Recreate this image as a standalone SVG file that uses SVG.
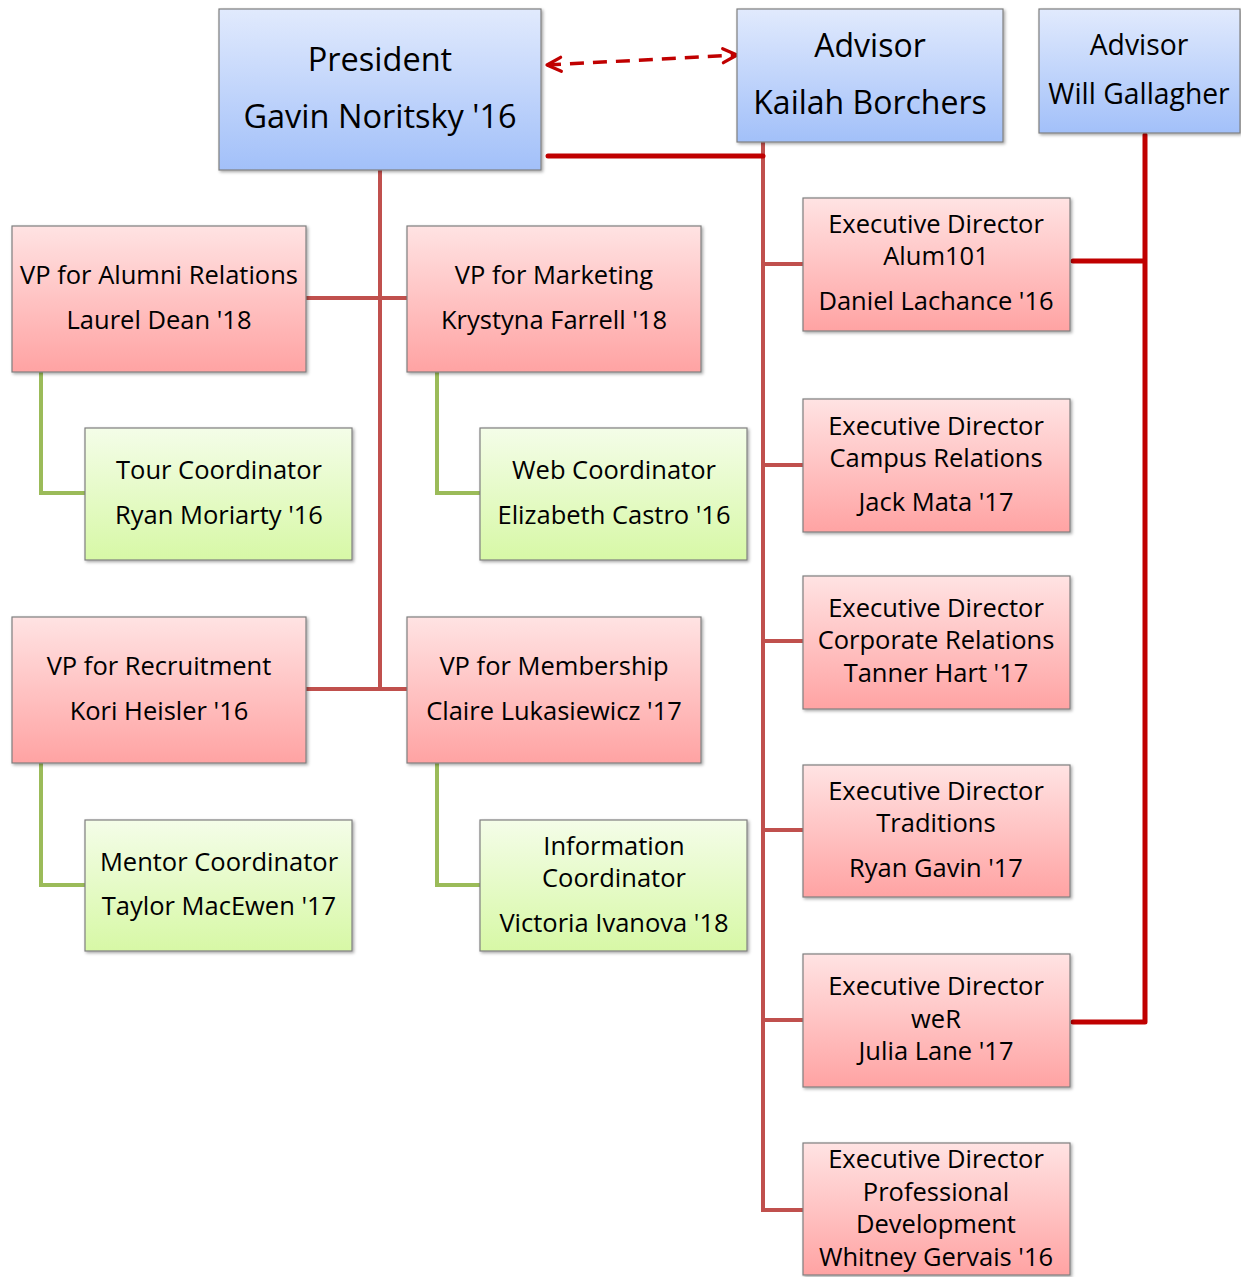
<svg xmlns="http://www.w3.org/2000/svg" width="1241" height="1277" viewBox="0 0 1241 1277">
<defs>
<linearGradient id="gBlue" x1="0" y1="0" x2="0" y2="1"><stop offset="0" stop-color="#E1EAFD"/><stop offset="1" stop-color="#A2C0F9"/></linearGradient>
<linearGradient id="gRed" x1="0" y1="0" x2="0" y2="1"><stop offset="0" stop-color="#FFE3E3"/><stop offset="1" stop-color="#FFA3A3"/></linearGradient>
<linearGradient id="gGreen" x1="0" y1="0" x2="0" y2="1"><stop offset="0" stop-color="#F4FDE8"/><stop offset="1" stop-color="#D7F8A6"/></linearGradient>
<filter id="sh" x="-10%" y="-10%" width="130%" height="130%"><feDropShadow dx="1.5" dy="1.5" stdDeviation="1.5" flood-color="#000" flood-opacity="0.35"/></filter>
<marker id="arr" viewBox="0 0 20 20" refX="17" refY="10" markerWidth="20" markerHeight="20" markerUnits="userSpaceOnUse" orient="auto-start-reverse"><path d="M3,3 L17,10 L3,17" fill="none" stroke="#C00000" stroke-width="3.2" stroke-linecap="round" stroke-linejoin="round"/></marker>
</defs>
<style>
.box{stroke:#7F7F7F;stroke-width:1.2;filter:url(#sh)}
.b{fill:url(#gBlue)} .r{fill:url(#gRed)} .g{fill:url(#gGreen)}
text{font-family:"Open Sans","Noto Sans",sans-serif;fill:#000;text-anchor:middle}
.t{font-size:25.5px}
.tl{font-size:32.5px}
.tk{font-size:32px}
.tm{font-size:28.3px}
.lr{stroke:#C0504D;stroke-width:4;fill:none}
.lg{stroke:#9BBB59;stroke-width:4;fill:none}
.ld{stroke:#C00000;stroke-width:5;fill:none;stroke-linecap:round}
</style>
<g id="connectors">
<path class="lr" d="M380,170 V689 M306,298 H407 M306,689 H407"/>
<path class="lr" d="M763,142 V1210 H803 M763,264 H803 M763,465 H803 M763,641 H803 M763,830 H803 M763,1020 H803"/>
<path class="lg" d="M41,372 V493 H85 M437,372 V493 H480 M41,763 V885 H85 M437,763 V885 H480"/>
<path class="ld" d="M548,156 H763"/>
<path class="ld" d="M1145,135 V1022 M1073,261 H1145 M1073,1022 H1145"/>
<path d="M547,65 L737,55" stroke="#C00000" stroke-width="3.5" stroke-dasharray="14,9" fill="none" marker-start="url(#arr)" marker-end="url(#arr)"/>
</g>
<g id="president"><rect class="box b" x="219" y="9" width="322" height="161"/><text class="tl" x="380" y="71">President</text><text class="tl" x="380" y="128">Gavin Noritsky '16</text></g>
<g id="advisor-kailah"><rect class="box b" x="737" y="9" width="266" height="133"/><text class="tk" x="870" y="57">Advisor</text><text class="tk" x="870" y="114">Kailah Borchers</text></g>
<g id="advisor-will"><rect class="box b" x="1039" y="9" width="201" height="124"/><text class="tm" x="1139" y="55">Advisor</text><text class="tm" x="1139" y="104">Will Gallagher</text></g>
<g id="vp-alumni"><rect class="box r" x="12" y="226" width="294" height="146"/><text class="t" x="159" y="284">VP for Alumni Relations</text><text class="t" x="159" y="329">Laurel Dean '18</text></g>
<g id="vp-marketing"><rect class="box r" x="407" y="226" width="294" height="146"/><text class="t" x="554" y="284">VP for Marketing</text><text class="t" x="554" y="329">Krystyna Farrell '18</text></g>
<g id="tour"><rect class="box g" x="85" y="428" width="267" height="132"/><text class="t" x="219" y="479">Tour Coordinator</text><text class="t" x="219" y="524">Ryan Moriarty '16</text></g>
<g id="web"><rect class="box g" x="480" y="428" width="267" height="132"/><text class="t" x="614" y="479">Web Coordinator</text><text class="t" x="614" y="524">Elizabeth Castro '16</text></g>
<g id="vp-recruitment"><rect class="box r" x="12" y="617" width="294" height="146"/><text class="t" x="159" y="675">VP for Recruitment</text><text class="t" x="159" y="720">Kori Heisler '16</text></g>
<g id="vp-membership"><rect class="box r" x="407" y="617" width="294" height="146"/><text class="t" x="554" y="675">VP for Membership</text><text class="t" x="554" y="720">Claire Lukasiewicz '17</text></g>
<g id="mentor"><rect class="box g" x="85" y="820" width="267" height="131"/><text class="t" x="219" y="871">Mentor Coordinator</text><text class="t" x="219" y="915">Taylor MacEwen '17</text></g>
<g id="information"><rect class="box g" x="480" y="820" width="267" height="131"/><text class="t" x="614" y="855">Information</text><text class="t" x="614" y="887">Coordinator</text><text class="t" x="614" y="932">Victoria Ivanova '18</text></g>
<g id="ed-alum101"><rect class="box r" x="803" y="198" width="267" height="133"/><text class="t" x="936" y="233">Executive Director</text><text class="t" x="936" y="265">Alum101</text><text class="t" x="936" y="310">Daniel Lachance '16</text></g>
<g id="ed-campus"><rect class="box r" x="803" y="399" width="267" height="133"/><text class="t" x="936" y="435">Executive Director</text><text class="t" x="936" y="467">Campus Relations</text><text class="t" x="936" y="511">Jack Mata '17</text></g>
<g id="ed-corporate"><rect class="box r" x="803" y="576" width="267" height="133"/><text class="t" x="936" y="617">Executive Director</text><text class="t" x="936" y="649">Corporate Relations</text><text class="t" x="936" y="682">Tanner Hart '17</text></g>
<g id="ed-traditions"><rect class="box r" x="803" y="765" width="267" height="132"/><text class="t" x="936" y="800">Executive Director</text><text class="t" x="936" y="832">Traditions</text><text class="t" x="936" y="877">Ryan Gavin '17</text></g>
<g id="ed-wer"><rect class="box r" x="803" y="954" width="267" height="133"/><text class="t" x="936" y="995">Executive Director</text><text class="t" x="936" y="1028">weR</text><text class="t" x="936" y="1060">Julia Lane '17</text></g>
<g id="ed-professional"><rect class="box r" x="803" y="1143" width="267" height="132"/><text class="t" x="936" y="1168">Executive Director</text><text class="t" x="936" y="1201">Professional</text><text class="t" x="936" y="1233">Development</text><text class="t" x="936" y="1266">Whitney Gervais '16</text></g>
</svg>
